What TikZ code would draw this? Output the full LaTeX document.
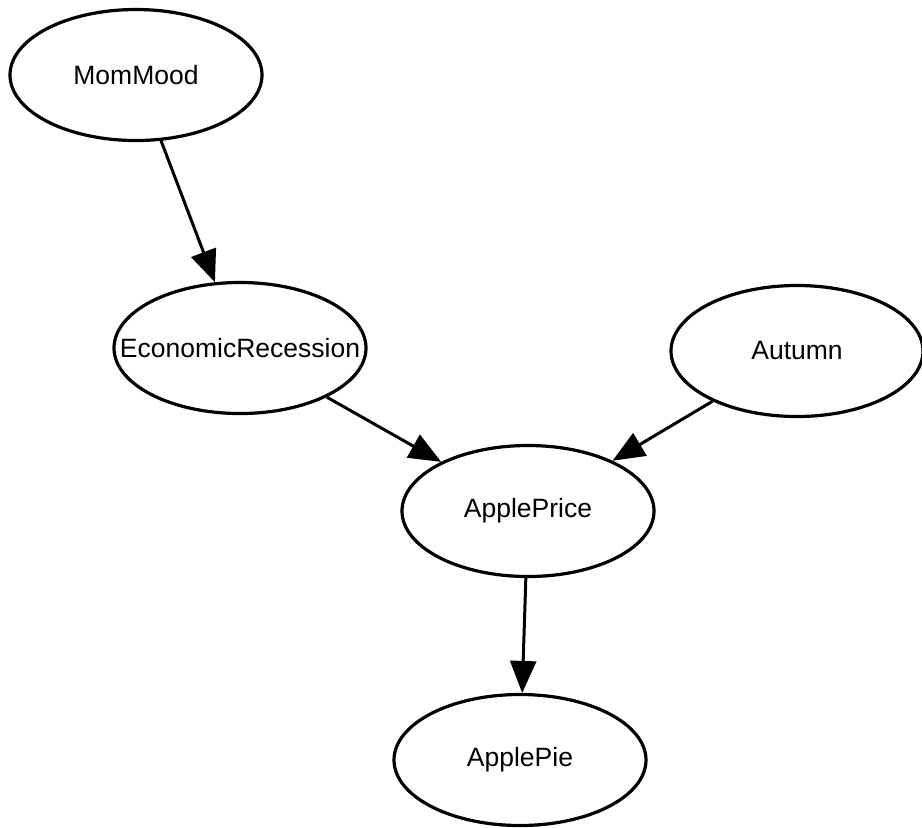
\documentclass[tikz,border=0pt]{standalone}
\usepackage{fontspec}
\setmainfont{Liberation Sans}
\usepackage{tikz}
\usetikzlibrary{arrows,arrows.meta,shapes}

\begin{document}
\begin{tikzpicture}[x=0.5pt,y=-0.5pt,font=\fontsize{13.25}{16}\selectfont]
\tikzstyle{arc}=[->,>={Triangle[length=16pt,width=13pt]},line width=1.5pt]
\tikzstyle{var}=[ellipse,draw=black,line width=1.6pt,minimum width=126pt,minimum height=65.5pt,inner xsep=-20pt]
\useasboundingbox (0,0) rectangle (922,827);
%% TikZ-figure elements %%
\node[var] at (136,75) (Mom) {MomMood};
\node[var] at (240,348) (Rec) {EconomicRecession};
\node[var] at (797,351) (Aut) {Autumn};
\node[var] at (528,511) (Price) {ApplePrice};
\node[var] at (520,760) (Pie) {ApplePie};
\draw[arc] (Mom) to[bend right=0] (Rec) {};
\draw[arc] (Rec) to[bend right=0] (Price) {};
\draw[arc] (Aut) to[bend right=0] (Price) {};
\draw[arc] (Price) to[bend right=0] (Pie) {};
\end{tikzpicture}
\end{document}
